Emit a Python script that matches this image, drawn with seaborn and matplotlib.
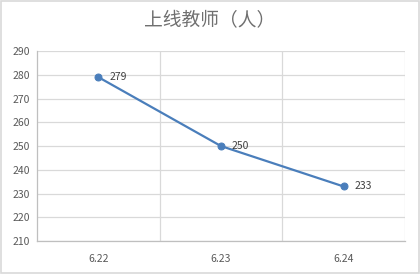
import matplotlib
matplotlib.use("Agg")
import matplotlib.pyplot as plt
import seaborn as sns
import pandas as pd
from matplotlib.ticker import FixedLocator

categories = ["6.22", "6.23", "6.24"]
values = [279, 250, 233]
title = "上线教师（人）"

sns.set_theme(style="white")
plt.rcParams['font.family'] = ['Noto Sans CJK SC', 'DejaVu Sans']

df = pd.DataFrame({"idx": range(len(categories)), "val": values})

fig = plt.figure(figsize=(4.2, 2.74), dpi=100)
ax = fig.add_axes([0.088, 0.120, 0.876, 0.694])
color = "#4a7ebb"
sns.lineplot(data=df, x="idx", y="val", ax=ax, color=color, linewidth=1.6,
             marker="o", markersize=5, markeredgecolor=color, markerfacecolor=color)

ax.set_xlim(-0.5, len(categories) - 0.5)
ax.set_ylim(210, 290)
ax.set_yticks(range(210, 291, 10))
ax.set_xticks(range(len(categories)))
ax.set_xticklabels(categories)
ax.xaxis.set_minor_locator(FixedLocator([i + 0.5 for i in range(len(categories))]))
ax.grid(axis="y", which="major", color="#d9d9d9", linewidth=0.9)
ax.grid(axis="x", which="minor", color="#d9d9d9", linewidth=0.9)
ax.grid(axis="x", which="major", visible=False)
ax.set_xlabel("")
ax.set_ylabel("")
ax.tick_params(axis="both", which="both", length=0, labelsize=7.5, labelcolor="#595959")
ax.tick_params(axis="x", pad=9)
ax.tick_params(axis="y", pad=5)
for s in ["top", "right"]:
    ax.spines[s].set_visible(False)
for s in ["left", "bottom"]:
    ax.spines[s].set_color("#bfbfbf")
    ax.spines[s].set_linewidth(0.9)

for i, v in enumerate(values):
    ax.annotate(str(v), (i, v), xytext=(8, 0), textcoords="offset points",
                ha="left", va="center", fontsize=7.5, color="#404040")

fig.text(0.5, 0.925, title, ha="center", va="center", fontsize=13.5, color="#707070")

border = plt.Rectangle((0.002, 0.002), 0.996, 0.995, transform=fig.transFigure,
                       fill=False, edgecolor="#d9d9d9", linewidth=1.2)
fig.patches.append(border)

fig.savefig("out.png", dpi=100)
